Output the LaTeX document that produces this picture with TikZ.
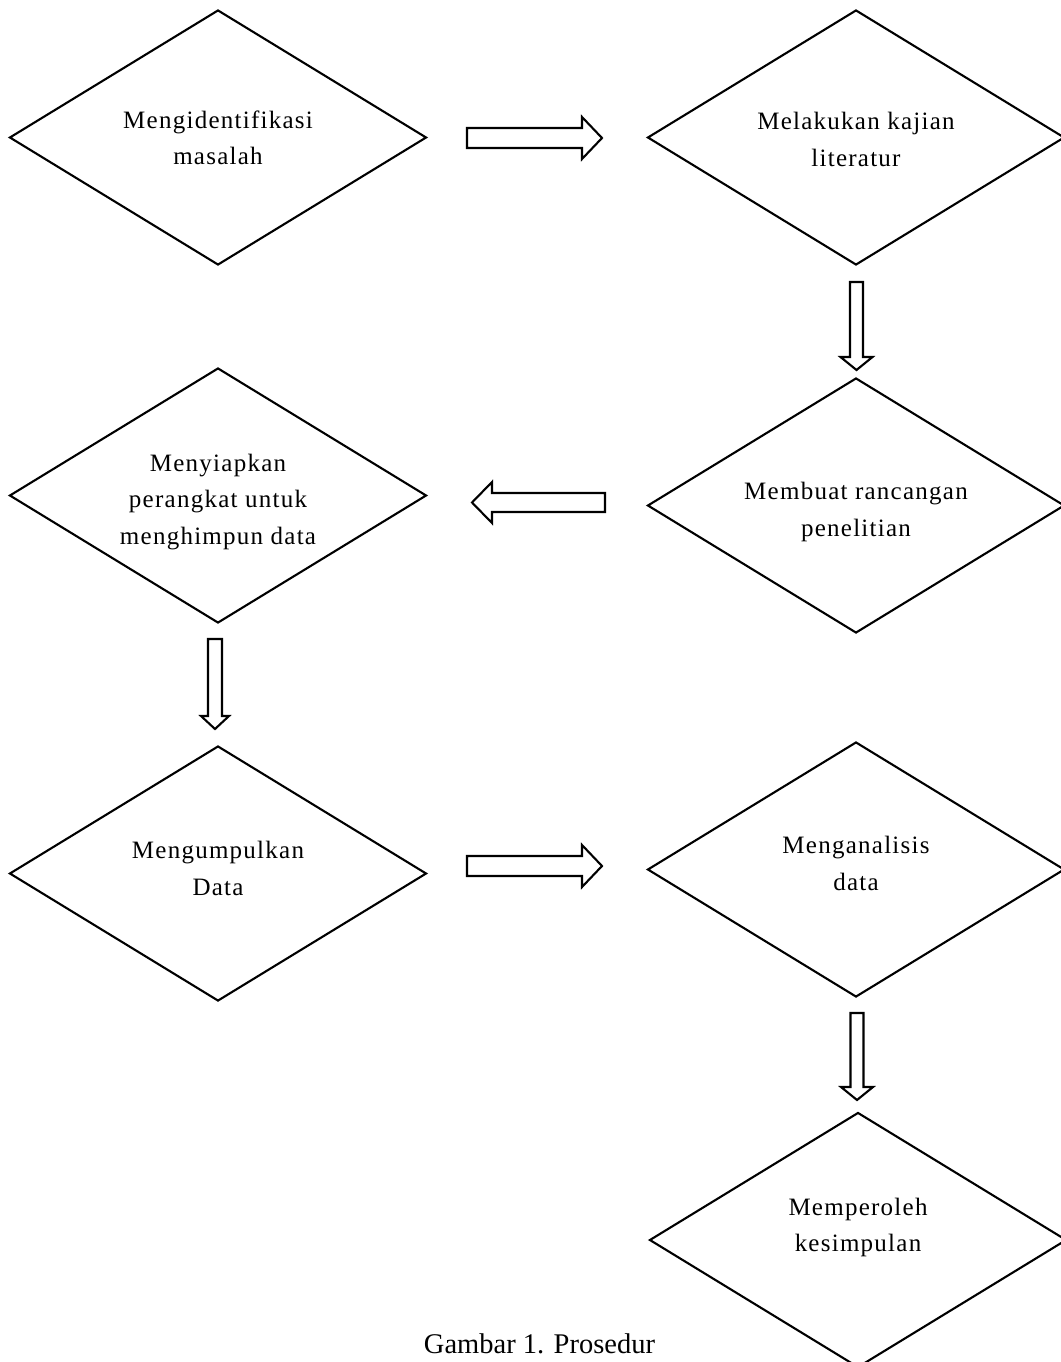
\documentclass[tikz,border=0pt]{standalone}
\usepackage{fontspec}
\setmainfont{Liberation Serif}
\newfontfamily\dfont{Liberation Serif}[LetterSpace=5]
\usetikzlibrary{shapes.geometric}
\newcommand{\dtext}[2]{\raisebox{#1}[\height][\depth]{\begin{tabular}{@{}c@{}}#2\end{tabular}}}
% block arrow: centre x, centre y, rotation, half length, shaft half width, head half width, head length
\newcommand{\barr}[7]{\draw[barrow,shift={(#1,#2)},rotate=#3] (-#4,-#5) -- (#4-#7,-#5) -- (#4-#7,-#6) -- (#4,0) -- (#4-#7,#6) -- (#4-#7,#5) -- (-#4,#5) -- cycle;}
\tikzset{
  dia/.style={diamond, draw, line width=2.1pt, inner sep=0pt, aspect=1.635, minimum width=417pt, minimum height=255pt,
              font=\dfont\fontsize{25}{36.5}\selectfont},
  barrow/.style={draw, line width=2.1pt, line join=miter}
}
\begin{document}
\begin{tikzpicture}[x=1pt,y=-1pt]
\useasboundingbox (0,0) rectangle (1060,1362);
\node[dia] (d1) at (218,137.5) {\dtext{-1.5pt}{Mengidentifikasi\\masalah}};
\node[dia] (d2) at (856,137.5) {\dtext{-3pt}{Melakukan kajian\\literatur}};
\node[dia] (d3) at (856,505.5) {\dtext{-5pt}{Membuat rancangan\\penelitian}};
\node[dia] (d4) at (218,495.5) {\dtext{-5pt}{Menyiapkan\\perangkat untuk\\menghimpun data}};
\node[dia] (d5) at (218,873.5) {\dtext{4pt}{Mengumpulkan\\Data}};
\node[dia] (d6) at (856,869.5) {\dtext{5pt}{Menganalisis\\data}};
\node[dia] (d7) at (858,1240) {\dtext{14pt}{Memperoleh\\kesimpulan}};

\barr{534.5}{138}{0}{67.5}{10}{21}{20}
\barr{856.5}{326}{-90}{44}{6.5}{16}{13}
\barr{538.5}{502.5}{180}{66.5}{9.5}{20.5}{20}
\barr{215}{684}{-90}{45}{7}{14}{13}
\barr{534.5}{866}{0}{67.5}{10}{21}{20}
\barr{857}{1056.5}{-90}{43.5}{6.5}{16}{13}

\node[anchor=base, font=\fontsize{28.5}{34}\selectfont, inner sep=0pt] (cap) at (539.5,1353) {Gambar 1. Prosedur};
\end{tikzpicture}
\end{document}
